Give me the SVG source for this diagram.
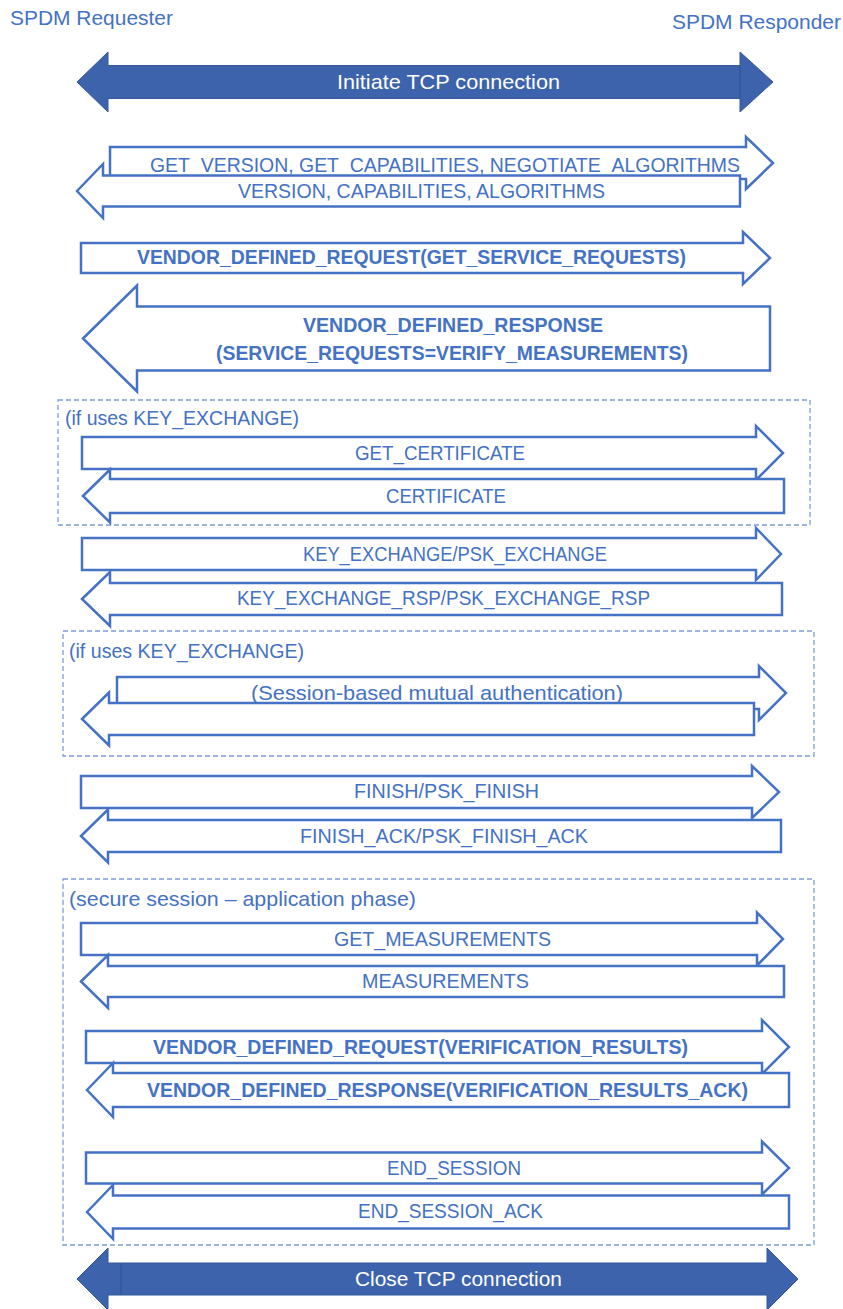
<svg xmlns="http://www.w3.org/2000/svg" width="843" height="1309" viewBox="0 0 843 1309">
<style>
.o{fill:#fff;stroke:#4472C4;stroke-width:2.5;stroke-linejoin:miter}
.d{fill:#3E63AD;stroke:#35589C;stroke-width:1}
.f{fill:none;stroke:#7C9DD8;stroke-width:1.3;stroke-dasharray:5 3}
.t{font-family:"Liberation Sans",Arial,sans-serif;font-size:21px;fill:#4472C4}
.b{font-weight:bold}
.w{fill:#fff}
</style>
<rect width="843" height="1309" fill="#fff"/>
<g id="lifelines">
<text class="t" x="10" y="25" textLength="163" lengthAdjust="spacingAndGlyphs">SPDM Requester</text>
<text class="t" x="672" y="29" textLength="169" lengthAdjust="spacingAndGlyphs">SPDM Responder</text>
</g>
<g id="frames">
<g id="frame1"><rect class="f" x="58" y="400" width="752" height="125"/>
<text class="t" x="65" y="425" textLength="234" lengthAdjust="spacingAndGlyphs">(if uses KEY_EXCHANGE)</text></g>
<g id="frame2"><rect class="f" x="63" y="631" width="751" height="125"/>
<text class="t" x="69" y="658" textLength="235" lengthAdjust="spacingAndGlyphs">(if uses KEY_EXCHANGE)</text></g>
<g id="frame3"><rect class="f" x="63" y="879" width="751" height="366"/>
<text class="t" x="69" y="906" textLength="347" lengthAdjust="spacingAndGlyphs">(secure session – application phase)</text></g>
</g>
<g id="connectors">
<g id="tcp-open">
<path class="d" d="M77,82 L108,52 L108,65.5 L740,65.5 L740,52 L773,82 L740,112 L740,98.5 L108,98.5 L108,112 Z"/>
<line x1="740" y1="66" x2="740" y2="98" stroke="#2F528F" stroke-width="1"/>
<text class="t w" x="337" y="89" textLength="223" lengthAdjust="spacingAndGlyphs">Initiate TCP connection</text>
</g>
<g id="msg-get-version">
<path class="o" d="M110,147 L746,147 L746,137 L773,163 L746,189 L746,179 L110,179 Z"/>
<text class="t" x="150" y="172" textLength="590" lengthAdjust="spacingAndGlyphs">GET_VERSION, GET_CAPABILITIES, NEGOTIATE_ALGORITHMS</text>
</g>
<g id="msg-version">
<path class="o" d="M77,191 L103,164 L103,175.5 L740,175.5 L740,206.5 L103,206.5 L103,218 Z"/>
<text class="t" x="238" y="198" textLength="367" lengthAdjust="spacingAndGlyphs">VERSION, CAPABILITIES, ALGORITHMS</text>
</g>
<g id="msg-vdr-get-service">
<path class="o" d="M81,243 L743,243 L743,232 L770,258 L743,284 L743,273 L81,273 Z"/>
<text class="t b" x="137" y="264" textLength="549" lengthAdjust="spacingAndGlyphs">VENDOR_DEFINED_REQUEST(GET_SERVICE_REQUESTS)</text>
</g>
<g id="msg-vdr-service-resp">
<path class="o" d="M83,338.5 L137,285.5 L137,306.5 L770,306.5 L770,370.5 L137,370.5 L137,391.5 Z"/>
<text class="t b" x="303" y="332" textLength="300" lengthAdjust="spacingAndGlyphs">VENDOR_DEFINED_RESPONSE</text>
<text class="t b" x="216" y="360" textLength="472" lengthAdjust="spacingAndGlyphs">(SERVICE_REQUESTS=VERIFY_MEASUREMENTS)</text>
</g>
<g id="msg-get-cert">
<path class="o" d="M82,437 L756,437 L756,426 L783,453 L756,480 L756,469 L82,469 Z"/>
<text class="t" x="355" y="460" textLength="170" lengthAdjust="spacingAndGlyphs">GET_CERTIFICATE</text>
</g>
<g id="msg-cert">
<path class="o" d="M83,496 L110,469.5 L110,479 L784,479 L784,513 L110,513 L110,522.5 Z"/>
<text class="t" x="386" y="503" textLength="120" lengthAdjust="spacingAndGlyphs">CERTIFICATE</text>
</g>
<g id="msg-key-exchange">
<path class="o" d="M82,538 L756,538 L756,528 L781,554 L756,580 L756,570 L82,570 Z"/>
<text class="t" x="303" y="561" textLength="304" lengthAdjust="spacingAndGlyphs">KEY_EXCHANGE/PSK_EXCHANGE</text>
</g>
<g id="msg-key-exchange-rsp">
<path class="o" d="M82,599 L110,572 L110,583 L782,583 L782,615 L110,615 L110,626 Z"/>
<text class="t" x="237" y="605" textLength="413" lengthAdjust="spacingAndGlyphs">KEY_EXCHANGE_RSP/PSK_EXCHANGE_RSP</text>
</g>
<g id="msg-mutual-auth">
<path class="o" d="M117,677 L759,677 L759,666 L786,693 L759,720 L759,709 L117,709 Z"/>
<text class="t" x="251" y="700" textLength="372" lengthAdjust="spacingAndGlyphs">(Session-based mutual authentication)</text>
</g>
<g id="msg-mutual-auth-rsp">
<path class="o" d="M82,719 L109,692.5 L109,703 L754,703 L754,735 L109,735 L109,745.5 Z"/>
</g>
<g id="msg-finish">
<path class="o" d="M81,776 L752,776 L752,766 L779,792 L752,818 L752,808 L81,808 Z"/>
<text class="t" x="354" y="798" textLength="185" lengthAdjust="spacingAndGlyphs">FINISH/PSK_FINISH</text>
</g>
<g id="msg-finish-ack">
<path class="o" d="M81,836 L108,809.5 L108,820 L781,820 L781,852 L108,852 L108,862.5 Z"/>
<text class="t" x="300" y="843" textLength="288" lengthAdjust="spacingAndGlyphs">FINISH_ACK/PSK_FINISH_ACK</text>
</g>
<g id="msg-get-meas">
<path class="o" d="M81,923 L757,923 L757,912.5 L783,939 L757,965.5 L757,955 L81,955 Z"/>
<text class="t" x="334" y="946" textLength="217" lengthAdjust="spacingAndGlyphs">GET_MEASUREMENTS</text>
</g>
<g id="msg-meas">
<path class="o" d="M81,981.5 L108,955 L108,966 L784,966 L784,997 L108,997 L108,1008 Z"/>
<text class="t" x="362" y="988" textLength="167" lengthAdjust="spacingAndGlyphs">MEASUREMENTS</text>
</g>
<g id="msg-vdr-verif">
<path class="o" d="M86,1031 L762,1031 L762,1020 L789,1047 L762,1074 L762,1063 L86,1063 Z"/>
<text class="t b" x="153" y="1054" textLength="535" lengthAdjust="spacingAndGlyphs">VENDOR_DEFINED_REQUEST(VERIFICATION_RESULTS)</text>
</g>
<g id="msg-vdr-verif-ack">
<path class="o" d="M87,1090 L113,1063 L113,1073 L789,1073 L789,1107 L113,1107 L113,1117 Z"/>
<text class="t b" x="147" y="1097" textLength="601" lengthAdjust="spacingAndGlyphs">VENDOR_DEFINED_RESPONSE(VERIFICATION_RESULTS_ACK)</text>
</g>
<g id="msg-end-session">
<path class="o" d="M86,1152.5 L762,1152.5 L762,1141.5 L789,1168 L762,1194.5 L762,1183.5 L86,1183.5 Z"/>
<text class="t" x="387" y="1175" textLength="134" lengthAdjust="spacingAndGlyphs">END_SESSION</text>
</g>
<g id="msg-end-session-ack">
<path class="o" d="M87,1212 L113,1185 L113,1195.5 L789,1195.5 L789,1228.5 L113,1228.5 L113,1239 Z"/>
<text class="t" x="358" y="1218" textLength="185" lengthAdjust="spacingAndGlyphs">END_SESSION_ACK</text>
</g>
<g id="tcp-close">
<path class="d" d="M77,1279 L108,1248 L108,1263 L767,1263 L767,1248 L798,1279 L767,1310 L767,1295 L108,1295 L108,1310 Z"/>
<line x1="121" y1="1263.5" x2="121" y2="1294.5" stroke="#2F528F" stroke-width="1"/>
<text class="t w" x="355" y="1286" textLength="207" lengthAdjust="spacingAndGlyphs">Close TCP connection</text>
</g>
</g>
</svg>
